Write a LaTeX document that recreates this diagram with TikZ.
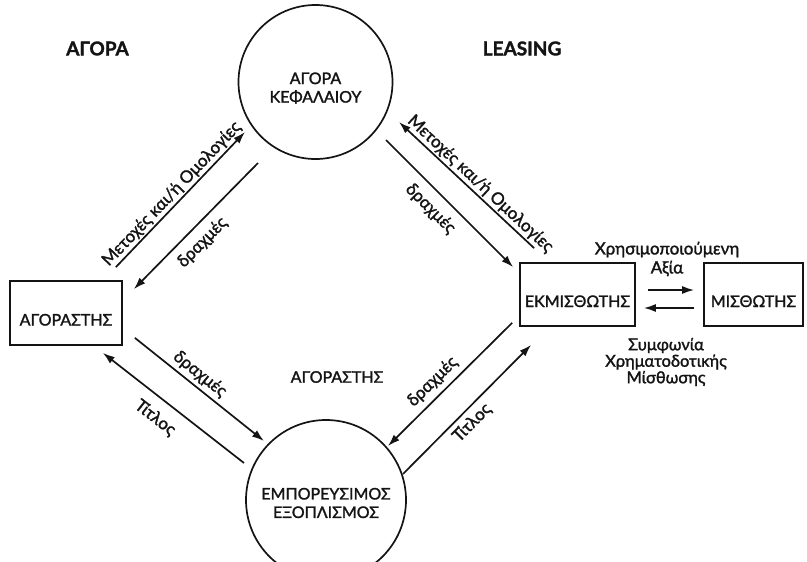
\documentclass[tikz,border=0pt]{standalone}
\usepackage{fontspec}
\setmainfont{Lato}[FakeBold=1.6]
\usetikzlibrary{arrows.meta}

\definecolor{ink}{HTML}{141414}
\newcommand{\capsize}{\fontsize{16}{18.5}\selectfont}
\newcommand{\flowsize}{\fontsize{17}{19}\selectfont}
\newcommand{\headsize}{\fontsize{19}{22}\selectfont\bfseries}

\begin{document}
\begin{tikzpicture}[x=1pt,y=-1pt,line width=1.7pt,draw=ink,text=ink,
    every path/.style={>={Latex[length=12pt,width=8pt]}},
    market/.style={draw,circle,inner sep=0pt},
    marketname/.style={font=\capsize,align=center},
    party/.style={draw,rectangle,minimum height=63pt,font=\capsize,text height=25pt,text depth=0pt},
    flow/.style={sloped,inner sep=1.5pt,font=\flowsize}]
  \useasboundingbox (0,0) rectangle (807,562);
  \clip (0,0) rectangle (807,562);

  % titles
  \node[font=\headsize] (agora)   at (97.5,48.5) {ΑΓΟΡΑ};
  \node[font=\headsize] (leasing) at (522,48.5)  {LEASING};

  % markets
  \node[market,minimum size=154pt,label={[marketname,yshift=-6pt]center:ΑΓΟΡΑ\\ΚΕΦΑΛΑΙΟΥ}] (kef) at (315.5,82) {};
  \node[market,minimum size=160pt,label={[marketname,yshift=-3pt]center:ΕΜΠΟΡΕΥΣΙΜΟΣ\\ΕΞΟΠΛΙΣΜΟΣ}] (exo) at (326,500) {};

  % parties
  \node[party,minimum width=112pt,minimum height=64pt] (buyer) at (66,313) {ΑΓΟΡΑΣΤΗΣ};
  \node[party,minimum width=115pt] (lessor) at (577.5,294.5) {ΕΚΜΙΣΘΩΤΗΣ};
  \node[party,minimum width=99pt]  (lessee) at (753.5,294.5) {ΜΙΣΘΩΤΗΣ};
  \node[font=\capsize] (buyerlbl) at (337,377) {ΑΓΟΡΑΣΤΗΣ};

  % capital market flows
  \draw[->] ([shift={(-7,-13)}]buyer.north east) -- node[flow,above,pos=.49] {Μετοχές και/ή Ομολογίες} ([shift={(-70.5,50)}]kef.center);
  \draw[->] ([shift={(-57.5,81)}]kef.center) -- node[flow,below=6pt,pos=.54] {δραχμές} ([shift={(11,9)}]buyer.north east);
  \draw[->] ([shift={(15,-14)}]lessor.north west) -- node[flow,above,pos=.45] {Μετοχές και/ή Ομολογίες} ([shift={(83.5,40)}]kef.center);
  \draw[->] ([shift={(70.5,58)}]kef.center) -- node[flow,below=7pt,pos=.445] {δραχμές} ([shift={(-6,5)}]lessor.north west);

  % equipment flows
  \draw[->] ([shift={(12,-8)}]buyer.south east) -- node[flow,above=2pt,pos=.445] {δραχμές} ([shift={(-62,-59)}]exo.center);
  \draw[->] ([shift={(-82,-37)}]exo.center) -- node[flow,below=9pt,pos=.546] {Τίτλος} ([shift={(-20,7)}]buyer.south east);
  \draw[->] ([shift={(-7,-4)}]lessor.south west) -- node[flow,above=4pt,pos=.56] {δραχμές} ([shift={(62,-54)}]exo.center);
  \draw[->] ([shift={(77,-26)}]exo.center) -- node[flow,below=3pt,pos=.467] {Τίτλος} ([shift={(12,18)}]lessor.south west);

  % lease
  \draw[->] ([shift={(12,-4.5)}]lessor.east) -- ([shift={(-9,-4.5)}]lessee.west);
  \draw[->] ([shift={(-9,13.5)}]lessee.west) -- ([shift={(8,13.5)}]lessor.east);
  \node[font=\flowsize,align=center] (value) at (667,259) {Χρησιμοποιούμενη\\Αξία};
  \node[font=\fontsize{16.5}{16.5}\selectfont,align=center] (lease) at (666,362) {Συμφωνία\\Χρηματοδοτικής\\Μίσθωσης};
\end{tikzpicture}
\end{document}
